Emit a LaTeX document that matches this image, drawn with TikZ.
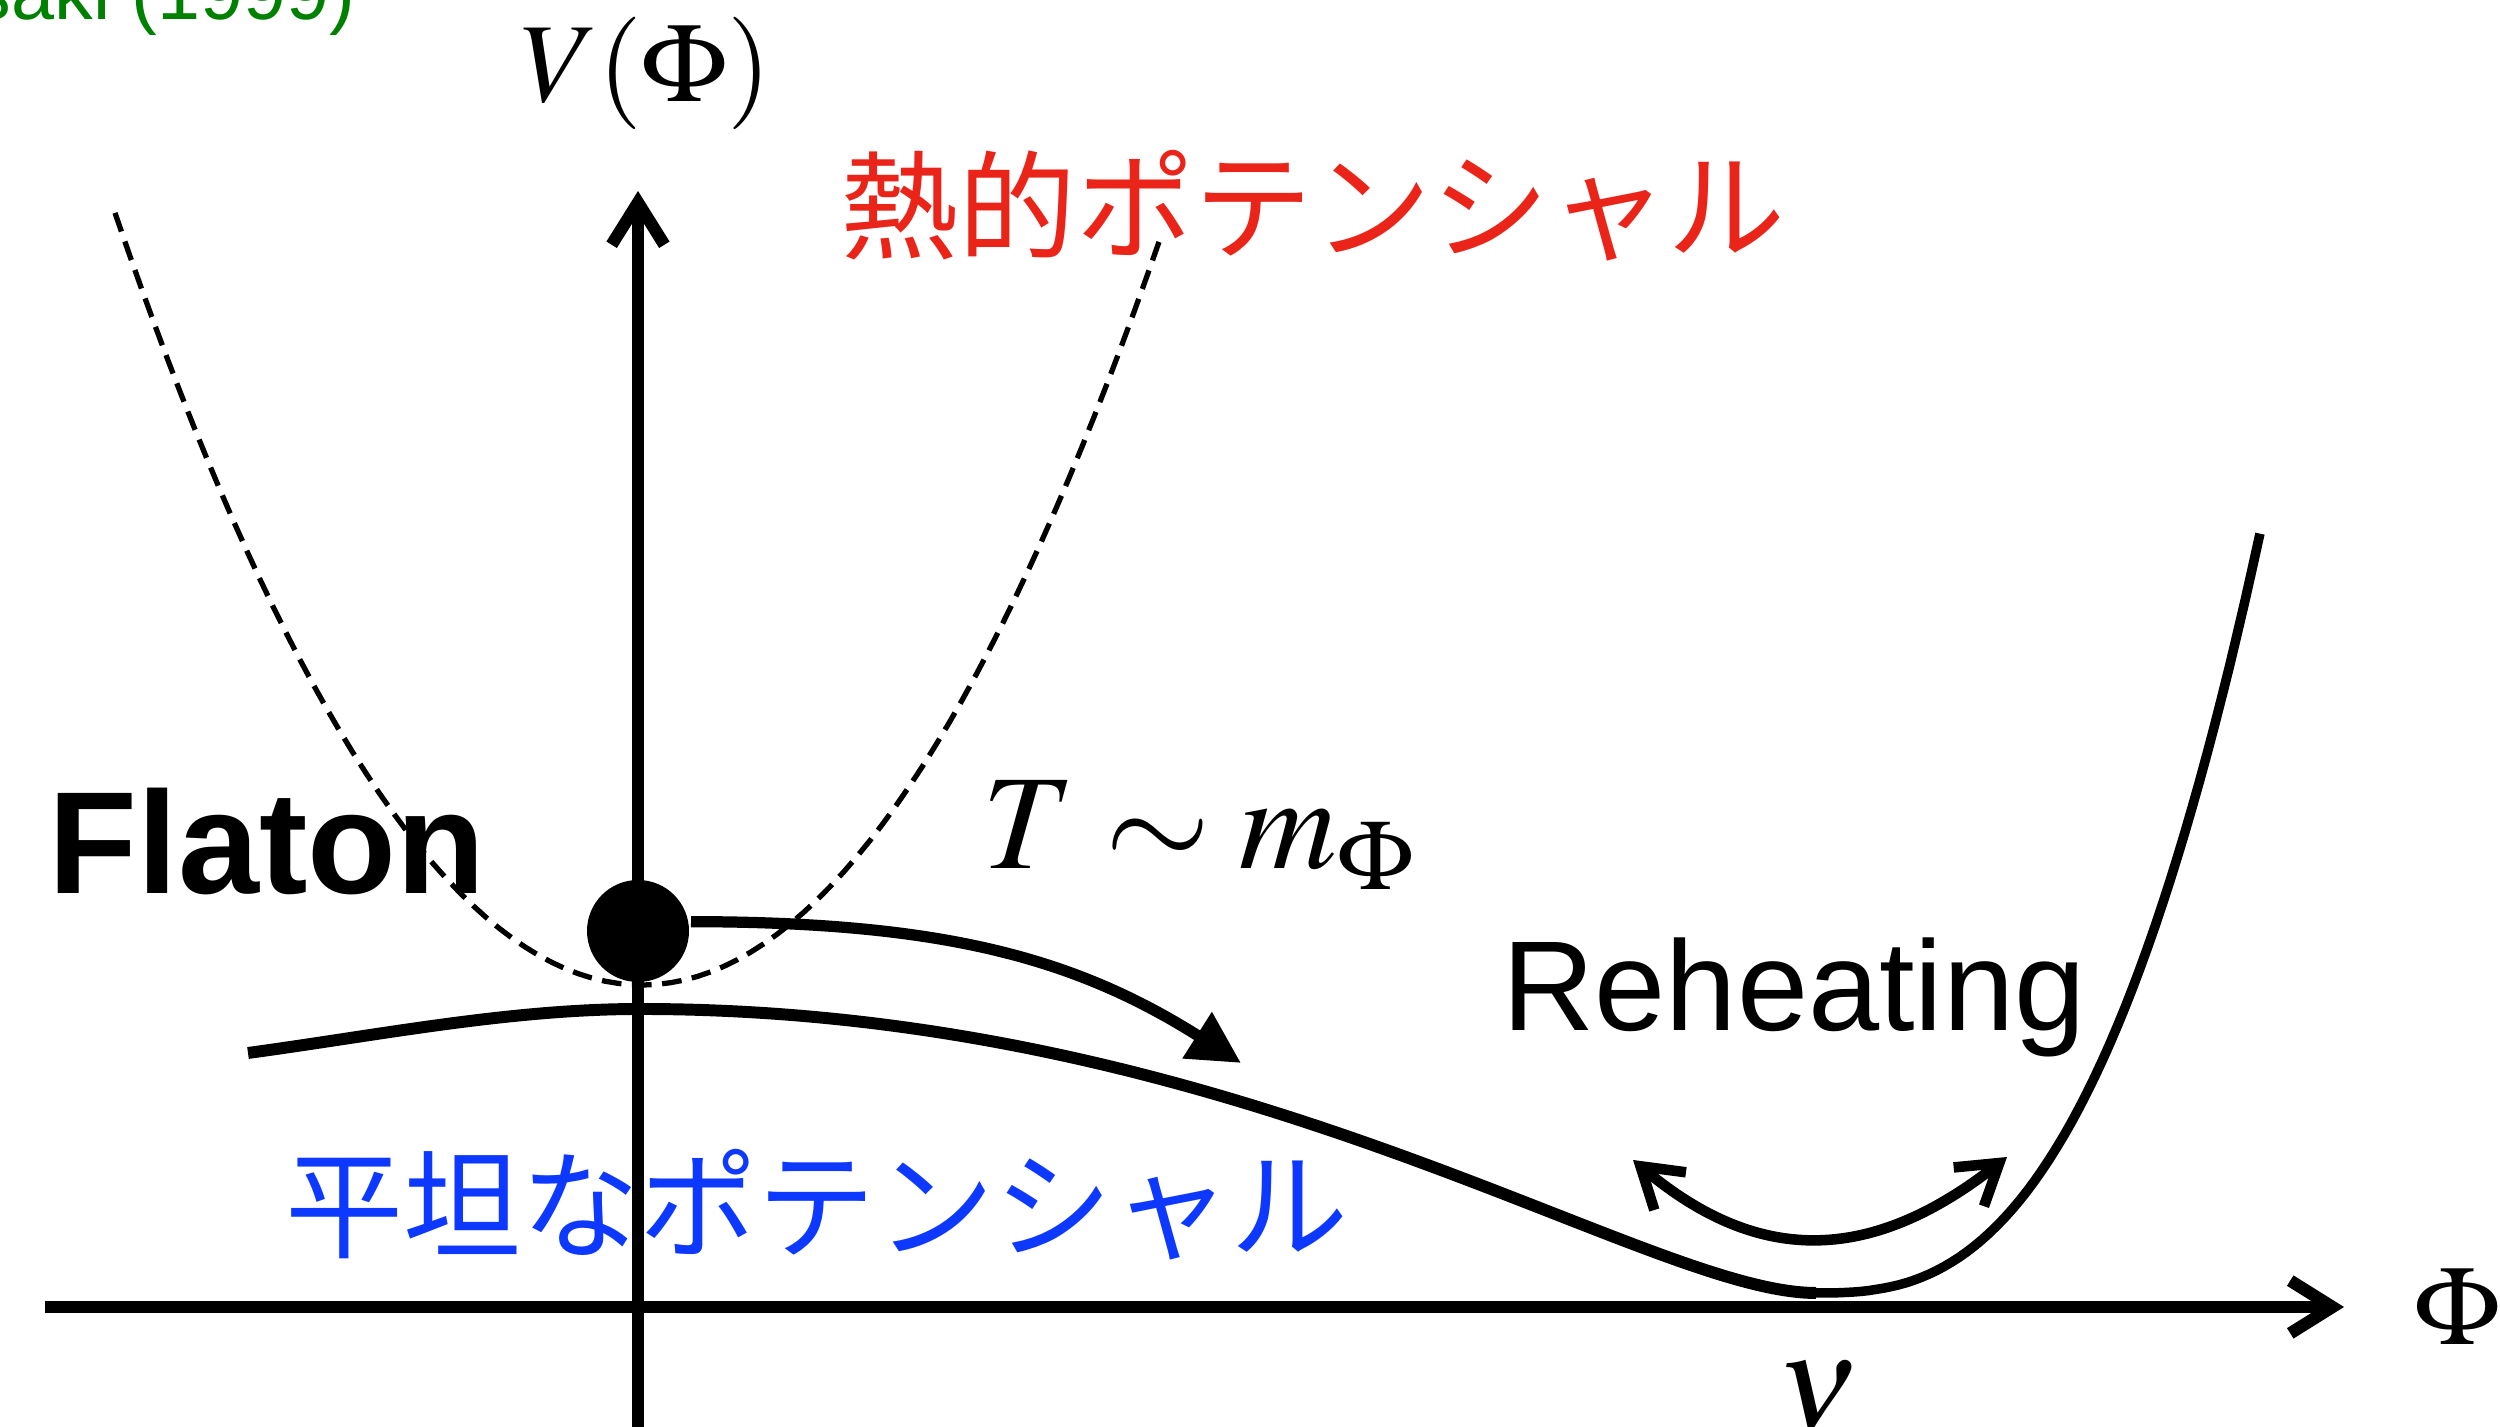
\documentclass[tikz,border=0pt]{standalone}
\usepackage{mathptmx}
\usepackage[no-math]{fontspec}
\setmainfont{Liberation Sans}
\newfontfamily\jpfont{Noto Sans CJK JP}
\usepackage{tikz}
\usetikzlibrary{arrows.meta, positioning, calc}
\usepackage{xcolor}
\definecolor{thermred}{RGB}{234,36,24}
\definecolor{flatblue}{RGB}{12,56,255}
\definecolor{refgreen}{RGB}{0,128,0}

\tikzset{
  axisline/.style={line width=1.75pt, -{Straight Barb[length=6pt, width=7.5pt]}},
  flatpot/.style={line width=1.7pt},
  quartpot/.style={line width=1.35pt},
  thermpot/.style={line width=0.75pt, dash pattern=on 2.8pt off 1.5pt},
  rollarrow/.style={line width=1.6pt, -{Triangle[length=7.4pt, width=7.4pt]}},
  oscarrow/.style={line width=1.5pt, {Straight Barb[length=5.5pt, width=7pt]}-{Straight Barb[length=5.5pt, width=7pt]}},
  mathlbl/.style={inner sep=0pt, font=\fontsize{16}{19}\selectfont},
  biglbl/.style={inner sep=0pt, font=\fontsize{19.2}{23}\selectfont},
  jplbl/.style={inner sep=0pt, font=\jpfont\fontsize{16.8}{20}\selectfont},
}

\begin{document}
\begin{tikzpicture}[scale=0.5, thick]
    \useasboundingbox (0,0) rectangle (25,14.27);

    % axes
    \coordinate (xstart) at (0.45,1.20);
    \coordinate (xend) at (23.44,1.20);
    \coordinate (ystart) at (6.38,-0.2);
    \coordinate (yend) at (6.38,12.36);
    \draw[axisline] (xstart) -- (xend);
    \draw[axisline] (ystart) -- (yend);
    \node[mathlbl] (philbl) at (24.57,1.20) {$\Phi$};
    \node[mathlbl] (vlbl) at (6.46,13.54) {$V(\Phi)$};
    \node[biglbl, anchor=base] (vevlbl) at (18.18,-0.03) {$\nu$};

    % thermal potential
    \draw[thermpot] plot[domain=1.15:11.61, samples=80]
        (\x, {4.42+0.278*(\x-6.42)*(\x-6.42)});

    % flat potential
    \draw[flatpot] (2.48,3.74) .. controls (3.8,3.92) and (5.1,4.18) .. (6.40,4.18)
        .. controls (12.40,4.18) and (16.46,1.34) .. (18.16,1.34);
    \draw[quartpot] plot[domain=18.16:22.60, samples=60]
        (\x, {1.34+7.6*pow((\x-18.16)/4.44,2.7)});

    % flaton rolling
    \node[circle, fill, inner sep=0pt, minimum size=0.51cm] (flaton) at (6.38,4.96) {};
    \coordinate (rollend) at (12.41,3.64);
    \draw[rollarrow] (flaton.10) .. controls (9.38,5.05) and (10.72,4.71) .. (rollend);

    % oscillation
    \coordinate (oscl) at (16.33,2.67);
    \coordinate (oscr) at (20.07,2.70);
    \draw[oscarrow] (oscl) to[out=-40, in=218, looseness=1.15] (oscr);

    % labels
    \node[inner sep=0pt, anchor=base east, text=refgreen, font=\fontsize{11}{13}\selectfont]
        (reflbl) at (3.58,14.07) {saki (1999)};
    \node[inner sep=0pt, anchor=base west, font=\bfseries\fontsize{20.7}{24}\selectfont]
        (flatonlbl) at (0.46,5.33) {Flaton};
    \node[biglbl, anchor=base] (templbl) at (12.00,5.58) {$T\sim m_\Phi$};
    \node[inner sep=0pt, anchor=base, font=\fontsize{18.2}{21}\selectfont]
        (reheatlbl) at (17.94,3.96) {Reheating};
    \node[jplbl, anchor=base, text=thermred] (thermlbl) at (13.13,11.76) {熱的ポテンシャル};
    \node[jplbl, anchor=base, text=flatblue] (flatlbl) at (8.17,1.77) {平坦なポテンシャル};
\end{tikzpicture}
\end{document}
